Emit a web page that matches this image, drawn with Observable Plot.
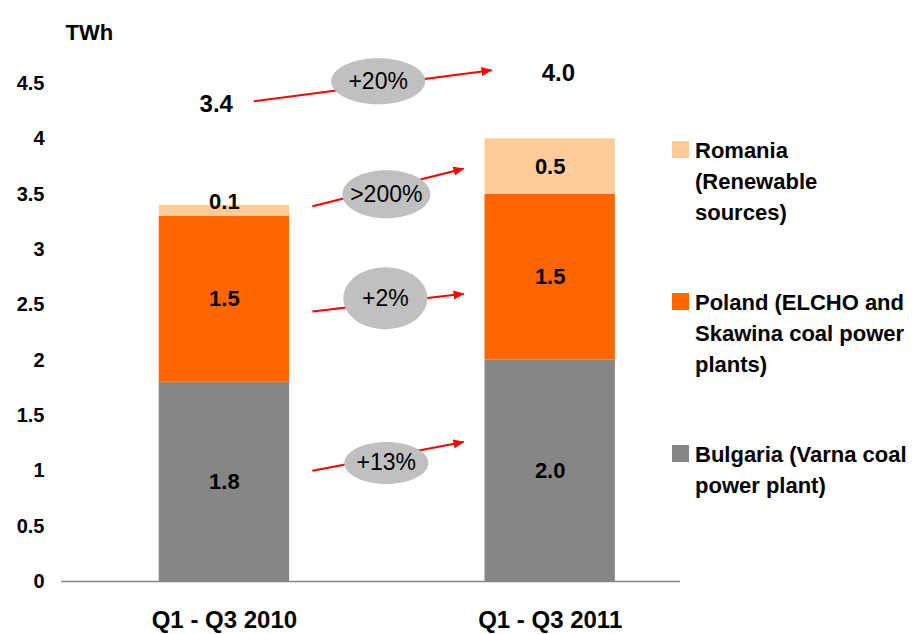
<!DOCTYPE html>
<html>
<head>
<meta charset="utf-8">
<script src="https://cdn.jsdelivr.net/npm/d3@7"></script>
<script src="https://cdn.jsdelivr.net/npm/@observablehq/plot@0.6"></script>
<style>
  html, body { margin: 0; padding: 0; background: #fff; }
  #wrap { position: relative; width: 916px; height: 634px; font-family: "Liberation Sans", Arial, sans-serif; }
  .leg { position: absolute; left: 672px; font-size: 22px; font-weight: bold; line-height: 31px; color: #000; white-space: pre; }
  .leg .sw { position: absolute; left: 0; top: 6px; width: 17px; height: 17px; }
  .leg .tx { position: absolute; left: 23px; top: 0; }
</style>
</head>
<body>
<div id="wrap"></div>
<script>
// ---- data ----
const periods = ["Q1 - Q3 2010", "Q1 - Q3 2011"];
const countries = ["Bulgaria", "Poland", "Romania"];
const bulgaria = [1.8, 2.0];
const poland = [1.5, 1.5];
const romania = [0.1, 0.5];
const legendLabels = [
  "Romania\n(Renewable\nsources)",
  "Poland (ELCHO and\nSkawina coal power\nplants)",
  "Bulgaria (Varna coal\npower plant)"
];
const legendCountries = ["Romania", "Poland", "Bulgaria"];
const changeLabels = ["+20%", ">200%", "+2%", "+13%"];
const yTicks = [0, 0.5, 1, 1.5, 2, 2.5, 3, 3.5, 4, 4.5];

// ---- styles ----
const colors = ["#868686", "#FF6600", "#FFCC99"];
const font = '"Liberation Sans", Arial, sans-serif';

// ---- annotation layout (data units) ----
const totalPos = [{x: -0.025, y: 4.31}, {x: 1.025, y: 4.59}];
const arrowLayout = [
  {x1: 0.09, y1: 4.34, x2: 0.82, y2: 4.62, cx: 0.472, cy: 4.52, rx: 47, ry: 23},
  {x1: 0.27, y1: 3.39, x2: 0.734, y2: 3.73, cx: 0.497, cy: 3.50, rx: 44, ry: 24},
  {x1: 0.27, y1: 2.44, x2: 0.734, y2: 2.60, cx: 0.494, cy: 2.56, rx: 42, ry: 31},
  {x1: 0.27, y1: 1.00, x2: 0.734, y2: 1.26, cx: 0.497, cy: 1.07, rx: 42, ry: 21}
];
const legendTops = [135, 287, 439];

// ---- table ----
const series = [bulgaria, poland, romania];
const rows = periods.flatMap((p, i) => {
  let acc = 0;
  return countries.map((c, j) => {
    const v = series[j][i];
    const r = {period: p, i, country: c, value: v, y1: acc, y2: acc + v};
    acc += v;
    return r;
  });
});
const totals = periods.map((p, i) => ({
  i, total: d3.sum(series, s => s[i]), x: totalPos[i].x, y: totalPos[i].y
}));
const changes = changeLabels.map((t, k) => ({label: t, ...arrowLayout[k]}));

function ellipseSymbol(rx, ry) {
  const k = 0.5523;
  return {
    draw(ctx) {
      ctx.moveTo(rx, 0);
      ctx.bezierCurveTo(rx, ry * k, rx * k, ry, 0, ry);
      ctx.bezierCurveTo(-rx * k, ry, -rx, ry * k, -rx, 0);
      ctx.bezierCurveTo(-rx, -ry * k, -rx * k, -ry, 0, -ry);
      ctx.bezierCurveTo(rx * k, -ry, rx, -ry * k, rx, 0);
      ctx.closePath();
    }
  };
}

const fmt = d3.format(".1f");

const svg = Plot.plot({
  width: 916,
  height: 634,
  marginLeft: 61,
  marginRight: 236,
  marginTop: 83,
  marginBottom: 53,
  style: {fontFamily: font, color: "#000", overflow: "visible", background: "#fff"},
  x: {domain: [-0.5, 1.4]},
  y: {domain: [0, 4.5]},
  color: {domain: countries, range: colors},
  marks: [
    Plot.rectY(rows, {x1: d => d.i - 0.2, x2: d => d.i + 0.2, y1: "y1", y2: "y2", fill: "country"}),
    Plot.ruleY([0], {stroke: "#868686", strokeWidth: 1.5}),
    Plot.text(rows.filter(d => d.value >= 0.2), {
      x: "i", y: d => (d.y1 + d.y2) / 2, text: d => fmt(d.value),
      fontSize: 22, fontWeight: "bold", fill: "#000"
    }),
    Plot.text(rows.filter(d => d.value < 0.2), {
      x: "i", y: d => (d.y1 + d.y2) / 2, text: d => fmt(d.value), dy: -9,
      fontSize: 22, fontWeight: "bold", fill: "#000"
    }),
    Plot.text(totals, {x: "x", y: "y", text: d => fmt(d.total), fontSize: 24, fontWeight: "bold", fill: "#000"}),
    Plot.link(changes, {x1: "x1", y1: "y1", x2: "x2", y2: "y2", stroke: "#FF0000", strokeWidth: 2}),
    ...changes.map(d => Plot.dot([d], {x: "cx", y: "cy", symbol: ellipseSymbol(d.rx, d.ry), r: 10, fill: "#C0C0C0", stroke: null})),
    Plot.text(changes, {x: "cx", y: "cy", text: "label", fontSize: 23, fontWeight: "normal", fill: "#000"}),
    Plot.text(["TWh"], {frameAnchor: "top-left", text: d => d, dx: 4, dy: -59, textAnchor: "start", fontSize: 22, fontWeight: "bold", fill: "#000"}),
    Plot.axisY({ticks: yTicks, tickFormat: d3.format("~g"), tickSize: 0, tickPadding: 17, fontSize: 20, fontWeight: "bold", label: null}),
    Plot.axisX({ticks: [0, 1], tickFormat: i => periods[i], tickSize: 0, tickPadding: 29, fontSize: 24, fontWeight: "bold", label: null})
  ]
});

// filled arrowheads
const sel = d3.select(svg);
const defs = sel.insert("defs", ":first-child");
defs.append("marker")
  .attr("id", "redhead")
  .attr("markerUnits", "userSpaceOnUse")
  .attr("markerWidth", 12).attr("markerHeight", 10)
  .attr("refX", 10).attr("refY", 4.5)
  .attr("orient", "auto")
  .append("path").attr("d", "M0,0L11,4.5L0,9Z").attr("fill", "#FF0000");
sel.selectAll('g[aria-label="link"] path').attr("marker-end", "url(#redhead)");

const wrap = document.getElementById("wrap");
wrap.appendChild(svg);

legendLabels.forEach((lab, k) => {
  const div = document.createElement("div");
  div.className = "leg";
  div.style.top = legendTops[k] + "px";
  const sw = document.createElement("div");
  sw.className = "sw";
  sw.style.background = colors[countries.indexOf(legendCountries[k])];
  const tx = document.createElement("div");
  tx.className = "tx";
  tx.textContent = lab;
  div.appendChild(sw);
  div.appendChild(tx);
  wrap.appendChild(div);
});
</script>
</body>
</html>
